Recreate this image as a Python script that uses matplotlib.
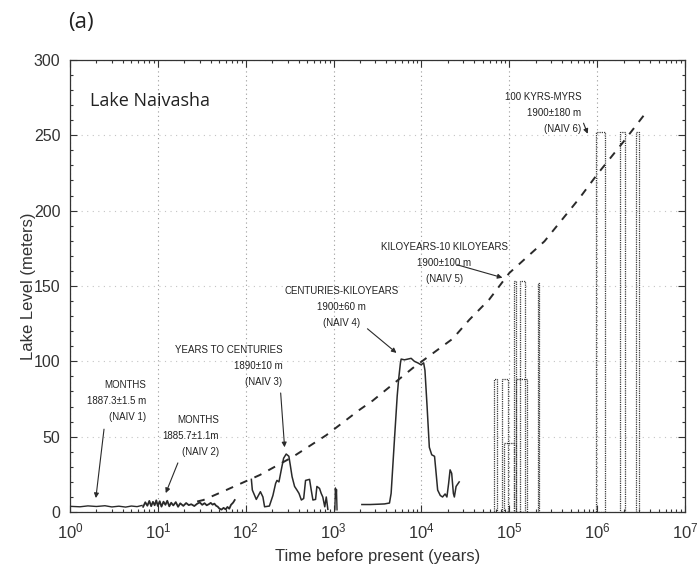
"""Lake Naivasha lake-level reconstruction across time scales."""

import matplotlib

matplotlib.use("Agg")
import matplotlib.pyplot as plt
from matplotlib.ticker import LogLocator, MultipleLocator, NullFormatter

INK = "#2a2a2a"
GRID = "#9a9a9a"

# NAIV 1 - months
naiv1_t = [1.0, 1.3, 1.6, 2.0, 2.5, 3.0, 3.6, 4.3, 5.0, 5.8, 6.6]
naiv1_level = [3.8, 3.5, 4.1, 3.7, 4.2, 3.4, 3.9, 3.3, 4.0, 3.6, 4.4]

# NAIV 2 - months
naiv2_t = [6.8, 7.2, 7.6, 8.0, 8.4, 8.8, 9.2, 9.6, 10.0, 10.5, 11, 11.6, 12.2, 12.8,
           13.5, 14.2, 15, 16, 17, 18, 19.5, 21, 22.5, 24, 26, 28, 30, 32, 34, 36,
           38, 40, 42, 44, 46, 48, 50, 53, 56, 59, 62, 65, 68, 72, 75]
naiv2_level = [3.5, 6.5, 4.2, 7.4, 3.9, 6.8, 4.5, 7.8, 4.0, 7.2, 3.6, 6.9, 4.8, 7.5,
               3.8, 6.2, 4.4, 6.6, 3.5, 5.8, 4.1, 6.0, 4.6, 5.2, 4.0, 5.5, 6.4, 4.8,
               5.9, 4.5, 5.2, 6.1, 4.9, 5.6, 4.2, 3.6, 2.4, 1.6, 2.8, 1.8, 3.4, 2.2,
               4.8, 6.3, 8.0]

# NAIV 3 - years to centuries
naiv3_t = [116, 119, 132, 147, 157, 164, 186, 204, 219, 227, 239, 254, 270, 289, 310,
           322, 337, 360, 383, 404, 430, 457, 480, 533, 557, 582, 624, 646, 692, 723,
           754, 794, 826, 861]
naiv3_level = [21.7, 14.6, 8.4, 13.5, 10, 3.5, 4, 11, 19, 21, 20, 28, 35.7, 38.5, 37,
               31, 23.5, 17, 14.6, 12.4, 8, 9, 21, 21.7, 14.6, 8, 8.4, 17, 15.7, 12.4,
               10, 3.5, 10, 1.8]
naiv3b_t = [1035, 1050, 1065, 1080, 1095]
naiv3b_level = [1.5, 16, 9, 15, 1.5]

# NAIV 4 - centuries to kiloyears
naiv4_t = [2100, 2600, 3200, 3800, 4330, 4520, 4930, 5300, 5500, 5770, 5880, 6410, 7000,
           7640, 8320, 9080, 9910, 10600, 10970, 11600, 12300, 13100, 14100, 14700,
           15300, 16400, 17400, 18600, 19500, 20400, 21200, 22100, 23100, 23700, 24800,
           26900]
naiv4_level = [5, 5, 5.2, 5.4, 6, 12.4, 48, 77, 88, 99, 101.5, 101, 101.5, 102, 100, 99,
               97.7, 99, 94, 70, 43, 38, 37, 25.7, 14.6, 11, 10, 12, 10, 19, 28, 25.7,
               12.4, 10, 17, 20]

# NAIV 5 / NAIV 6 - block reconstructions (left edge, right edge, level)
block_left = [66300, 81800, 87700, 112000, 120000, 133000, 214000, 980000, 1.84e6, 2.76e6]
block_right = [72500, 97500, 114000, 120000, 158000, 151000, 216000, 1.22e6, 2.08e6, 3.02e6]
block_level = [88, 88, 46, 153, 88, 153, 152, 252, 252, 252]

# dashed envelope
env_t = [28, 33, 60, 66, 145, 345, 826, 1970, 2800, 7950, 22700, 35100, 59000, 100000,
         251000, 624000, 1.0e6, 1.95e6, 3.7e6]
env_level = [7, 8, 14.6, 15.7, 24.6, 36.7, 51, 67.8, 74, 95.5, 115, 127.6, 141, 158.6,
             179.6, 208, 224, 245, 266]

plt.rcParams.update({
    "font.family": ["Liberation Sans", "DejaVu Sans"],
    "mathtext.fontset": "custom",
    "mathtext.rm": "Liberation Sans",
    "mathtext.it": "Liberation Sans",
})

fig = plt.figure(figsize=(6.97, 5.76), dpi=100, facecolor="white")
ax = fig.add_axes([0.1004, 0.111, 0.8824, 0.785])

for t, lv, lw in [(naiv1_t, naiv1_level, 1.0), (naiv2_t, naiv2_level, 1.3),
                  (naiv3_t, naiv3_level, 1.1), (naiv3b_t, naiv3b_level, 1.0),
                  (naiv4_t, naiv4_level, 1.1)]:
    ax.plot(t, lv, color=INK, linewidth=lw)

widths = [r - l for l, r in zip(block_left, block_right)]
ax.bar(block_left, block_level, width=widths, align="edge", fill=False,
       edgecolor="#3a3a3a", linestyle=(0, (1, 0.8)), linewidth=0.9)

ax.plot(env_t, env_level, color=INK, linewidth=1.4, dashes=(4, 4))

ax.set_xscale("log")
ax.set_xlim(1, 1e7)
ax.set_ylim(0, 300)
ax.yaxis.set_major_locator(MultipleLocator(50))
ax.yaxis.set_minor_locator(MultipleLocator(10))
ax.xaxis.set_major_locator(LogLocator(base=10, numticks=10))
ax.xaxis.set_minor_locator(LogLocator(base=10, subs=range(2, 10), numticks=20))
ax.xaxis.set_minor_formatter(NullFormatter())
ax.tick_params(which="both", direction="in", top=True, right=True, colors="#333",
               labelsize=12, width=0.8)
ax.tick_params(axis="y", labelsize=11.5)
ax.tick_params(which="major", length=5, pad=7)
ax.tick_params(which="minor", length=2.5)
ax.grid(True, axis="x", which="major", linestyle=(0, (1, 3)), color=GRID, linewidth=0.8)
ax.grid(True, axis="y", which="major", linestyle=(0, (1, 4)), color="#c4c4c4", linewidth=0.8)
for side in ax.spines.values():
    side.set_color("#333")
    side.set_linewidth(0.9)

ax.set_xlabel("Time before present (years)", fontsize=12, color="#333", labelpad=5)
ax.set_ylabel("Lake Level (meters)", fontsize=12, color="#333")
ax.yaxis.set_label_coords(-0.056, 0.5)

ax.text(0.032, 0.91, "Lake Naivasha", transform=ax.transAxes, fontsize=13,
        va="center", family=["Open Sans", "DejaVu Sans"], color="#222")
fig.text(0.098, 0.952, "(a)", fontsize=16, family=["Open Sans", "DejaVu Sans"], color="#222")

note = dict(fontsize=7.0, color="#222", family=["Liberation Sans Narrow", "Liberation Sans"],
            va="center", linespacing=1.75)
arrow = dict(arrowstyle="-|>", color=INK, linewidth=0.8, mutation_scale=7,
             shrinkA=0, shrinkB=0)

ax.text(7.3, 74, "MONTHS\n1887.3±1.5 m\n(NAIV 1)", ha="right", multialignment="right", **note)
ax.annotate("", xy=(1.97, 9.3), xytext=(2.44, 55), arrowprops=arrow)

ax.text(49.3, 50.5, "MONTHS\n1885.7±1.1m\n(NAIV 2)", ha="right", multialignment="right", **note)
ax.annotate("", xy=(12.3, 12.6), xytext=(16.9, 32.6), arrowprops=arrow)

ax.text(263, 97, "YEARS TO CENTURIES\n1890±10 m\n(NAIV 3)", ha="right",
        multialignment="right", **note)
ax.annotate("", xy=(277, 43), xytext=(250, 79), arrowprops=arrow)

ax.text(1240, 136, "CENTURIES-KILOYEARS\n1900±60 m\n(NAIV 4)", ha="center",
        multialignment="center", **note)
ax.annotate("", xy=(5200, 105.6), xytext=(2430, 121.6), arrowprops=arrow)

ax.text(18300, 165.4, "KILOYEARS-10 KILOYEARS\n1900±100 m\n(NAIV 5)", ha="center",
        multialignment="center", **note)
ax.annotate("", xy=(83600, 155.5), xytext=(25700, 164), arrowprops=arrow)

ax.text(658000, 265, "100 KYRS-MYRS\n1900±180 m\n(NAIV 6)", ha="right",
        multialignment="right", **note)
ax.annotate("", xy=(780000, 251), xytext=(700000, 258), arrowprops=arrow)

fig.savefig("out.png", dpi=100, facecolor="white")
